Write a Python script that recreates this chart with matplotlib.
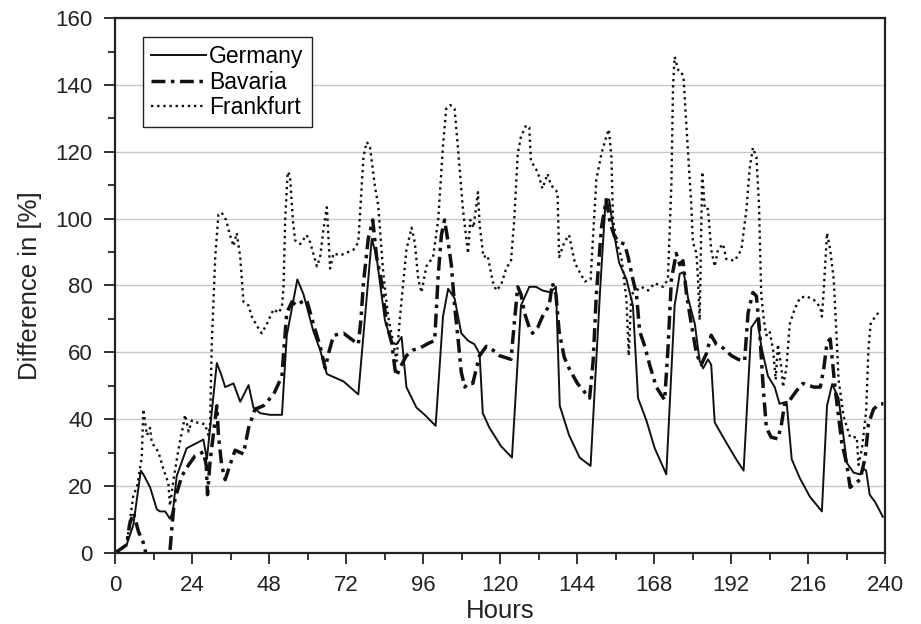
import numpy as np
import matplotlib
matplotlib.use('Agg')
import matplotlib.pyplot as plt
from matplotlib.ticker import MultipleLocator

plt.rcParams['font.family'] = ['Liberation Sans', 'DejaVu Sans']

# hourly difference series, read as (hour, value) pairs
germany_h = [0, 3.6, 5.7, 8, 8.8, 10.9, 13, 14, 15.6, 17.1, 18, 19.2, 22.3, 27.5, 28.6, 31.7, 33.2,
             34.3, 36.9, 39, 41.6, 43.1, 45.2, 48.3, 52, 53.5, 56.8, 58.7, 61.8, 63.9, 66, 71.2, 75.8,
             80, 81.5, 84.1, 86.2, 87.7, 89.3, 90.8, 93.9, 96.5, 99.9, 102.2, 103.8, 105.8, 107.9, 110,
             112, 113.6, 114.6, 116.7, 120.3, 123.7, 126.5, 129.1, 131.2, 133.2, 135.8, 137.4, 138.6,
             141.5, 144.8, 148.2, 151.1, 152.9, 154, 155.2, 157.1, 159.4, 161.4, 163, 165.6, 168.2,
             171.8, 174.4, 176, 177.2, 178.6, 180.7, 182.2, 183.3, 184.8, 185.8, 186.9, 190.5, 193.6,
             195.9, 198.3, 200.2, 201.4, 203.5, 205.6, 207.1, 209.3, 210.9, 213.4, 216.5, 220.3, 221.9,
             223.5, 225.5, 228.1, 230.2, 232.2, 233.3, 234.1, 235.2, 236.9, 239.3]
germany_v = [0, 2.4, 8.5, 24.6, 23.5, 19.6, 13, 12.4, 12.4, 10.2, 12.4, 23, 31.3, 33.9, 28, 56.8, 53,
             49.6, 50.7, 45.2, 50.2, 43.5, 41.8, 41.3, 41.3, 65, 81.8, 77.4, 66.3, 60.7, 53.5, 51.3, 47.4,
             94, 88.5, 69.6, 62.9, 62.4, 64.6, 49.6, 43.5, 41.3, 38, 70.7, 79, 76.2, 65.7, 63.5,
             62.4, 59.6, 41.8, 37.4, 31.9, 28.5, 74, 79.6, 79.6, 78.5, 77.9, 79.6, 44,
             35.2, 28.5, 26, 77.4, 105.7, 105.7, 97.3, 86.8, 81.8, 74, 46.3, 39.6, 31.3,
             23.5, 74, 83.5, 84, 76.2, 68.5, 57.4, 55.2, 57.9, 56.3, 39, 33, 28,
             24.6, 67.4, 70.1, 61.8, 52.9, 49.6, 44.6, 45.2, 28, 22.4, 16.9, 12.4, 44,
             50.5, 46.3, 26.9, 24, 23.5, 25.2, 24.6, 17.4, 15.2, 10.8]

bavaria_h = [0, 3.6, 4.5, 5.7, 7.3, 8.8, 9.9, 12, 16, 17.1, 18.2, 18.7, 20.8, 22.9, 24.9, 27.5, 28.4,
             28.8, 29.6, 30.6, 31.7, 32.2, 33.2, 34.3, 35.8, 37.4, 40, 41.6, 43.6, 46.2, 49.4, 52, 52.5,
             53.5, 55.1, 56.6, 58.2, 59.7, 61.8, 63.9, 65.5, 66.5, 68.1, 71.2, 75.8, 76.6, 77.4, 78.9,
             80.3, 81.5, 83.1, 84.6, 86.2, 87.2, 87.7, 89.3, 90.8, 92.9, 95, 98.1, 99.6, 100.7, 101.7,
             102.7, 103.8, 104.8, 105.8, 106.9, 107.9, 109, 110, 111.5, 112.6, 113.6, 115.7, 117.7,
             119.8, 123.4, 124.4, 125.5, 126.5, 127.6, 129.1, 130.1, 131.7, 133.2, 135.3, 136.3,
             137.4, 138.4, 140, 141.5, 144.1, 147.9, 149, 150, 151.6, 153.1, 154.4, 155.7, 157.3,
             158.8, 159.9, 161.4, 162.5, 163.5, 165.1, 166.6, 168.7, 171.3, 172.3, 173.4, 174.9, 176,
             177, 178.1, 179.6, 181.2, 182.7, 184.3, 185.8, 187.4, 189.5, 192.1, 194.2, 196.2, 197.3,
             198.8, 199.9, 200.9, 202, 203, 204.5, 206.6, 207.7, 208.7, 210.3, 212.4, 214.4, 217.8,
             219.8, 220.9, 221.9, 222.9, 223.8, 224.5, 225.5, 226.5, 228.1, 229.1, 230.7, 232.2,
             233.8, 234.8, 236.4, 238.4, 239.5]
bavaria_v = [0, 2.4, 8.5, 12, 6.3, 3, -1.4, -15, -12, 0.8, 13, 16.3, 23, 26.3, 29, 30.2, 26.3,
             17.4, 27.4, 35.2, 44, 35.2, 26.3, 21.9, 26.3, 30.7, 29.6, 37.4, 43, 44, 47.4, 52.9, 59.6,
             71.8, 75.1, 74, 75.1, 75.7, 68.5, 61.8, 55.2, 59.6, 65.1, 65.7, 62.4, 69.6, 80.7, 94,
             99.6, 88.5, 80.7, 68.5, 62.9, 55.2, 52.9, 56.3, 59, 60.7, 61.3, 62.9, 63.5, 82.9, 95.1,
             99.6, 92.9, 86.2, 74, 64, 54, 49.6, 50.7, 50.7, 55.2, 59, 61.8, 60.7,
             59, 57.9, 68.5, 79.6, 77.4, 71.8, 67.4, 65.7, 67.4, 70.7, 74, 80.7,
             77.4, 66.3, 58.5, 55.2, 50.7, 46.3, 57.4, 77.4, 97.3, 105.7, 98.4, 94.6, 92.9,
             92.4, 88.5, 81.8, 77.4, 66.3, 61.8, 56.3, 49.6, 45.7, 60.7, 81.8, 89.6, 86.2,
             87.4, 77.4, 68.5, 59.6, 56.3, 59.6, 65.1, 62.4, 61.3, 59, 57.9, 57.4, 71.8,
             77.9, 76.8, 66.3, 49.6, 37.4, 34.6, 34.1, 38.5, 44.6, 45.7, 48.5, 50.7, 49.6,
             49.6, 55.2, 62.9, 64, 55.2, 48.5, 40.7, 33, 26.3, 19.6, 20.8, 21.9,
             28.5, 38.5, 43, 44.6, 44.6]

frankfurt_h = [0, 3.6, 5.7, 6.8, 8.3, 8.8, 9.9, 10.9, 11.4, 13.5, 15, 16.6, 17.1, 18.2, 19.7, 21.3,
               21.8, 22.9, 23.9, 25.5, 28, 29.1, 29.6, 30.1, 31.2, 32.2, 33.2, 34.6, 35.8, 36.9, 37.9,
               39, 40, 41.6, 42.6, 44.2, 45.7, 47.3, 49.4, 50.9, 52, 52.5, 53, 53.8, 54.5, 55.4, 56.1,
               57.7, 59.7, 60.8, 62.9, 63.9, 65, 66, 67, 68.1, 70.1, 71.7, 74.3, 75.8, 77.4, 78.4, 79.4,
               81, 82, 83.6, 85.1, 86.7, 87.7, 88.8, 90.8, 92.4, 93.4, 94.5, 95.5, 97, 99.1, 100.7,
               102.2, 103.2, 104.5, 105.8, 106.9, 108.4, 110, 110.7, 111.7, 113.1, 113.6, 114.8, 116.1,
               117.7, 118.8, 120.3, 121.9, 123.4, 124.4, 125.5, 126.5, 128.1, 129.1, 129.6, 131.7,
               133.2, 134.8, 135.8, 137.9, 138.4, 140, 141.5, 143.3, 144.8, 146.4, 148.2, 149, 150,
               151.6, 153.1, 153.9, 154.7, 155.2, 156.3, 157.8, 159.4, 160.1, 160.9, 162.5, 164, 166.1,
               168.2, 170.8, 172.3, 173.4, 173.9, 174.4, 175.5, 176.5, 177.2, 178.1, 178.9, 179.6,
               180.1, 181.2, 181.7, 182.2, 183, 183.8, 184.8, 185.8, 186.9, 187.9, 189.5, 190.5, 193.1,
               195.2, 196.8, 197.8, 198.8, 199.9, 200.7, 201.4, 202.2, 203, 204, 205.1, 205.9, 206.6,
               207.7, 208.2, 209.2, 210.3, 211.8, 213.4, 215.4, 217.8, 219.8, 220.3, 220.8, 221.9,
               222.9, 224, 224.8, 225.5, 227.1, 229.1, 231.2, 231.7, 232.8, 234.1, 234.8, 235.5,
               236.9, 237.9]
frankfurt_v = [0, 2.4, 17.4, 19.6, 28.5, 43, 35.2, 37.4, 33, 30.2, 25.2, 20.8, 14.1, 21.9, 30.7, 38.5,
               41.3, 36.3, 39.6, 39, 38.5, 35.2, 38.5, 61.8, 88.5, 101.2, 101.8, 99.6, 95.1, 91.8, 95.7,
               88.5, 75.1, 74, 70.7, 67.9, 65.7, 68.5, 72.9, 71.8, 73.5, 79.6, 99.6, 114, 112.9, 99.6,
               93.5, 92.4, 95.1, 92.9, 85.7, 88.5, 97.3, 103.4, 85.1, 89.6, 89, 89.6, 90.7, 92.9, 118.4,
               122.9, 121.8, 109.5, 104, 83.5, 70.7, 62.9, 57.4, 70.7, 90.7, 97.3, 92.9, 81.8, 77.9,
               85.7, 88.5, 99.6, 121.8, 132.9, 134, 132.9, 120.7, 102.9, 89.6, 99.6, 97.3, 107.9, 98.4,
               88.5, 89, 81.2, 78.5, 80.1, 85.1, 87.4, 99.6, 119.5, 124.5, 127.9, 127.3, 117.3, 114,
               109, 113.4, 110.1, 107.9, 88.5, 92.9, 95.1, 86.8, 84, 81.2, 81.8, 95.1, 111.7, 119.5,
               124.5, 126.7, 118.4, 99.6, 92.9, 88.5, 75.7, 59, 77.4, 78.5, 79.6, 78.5, 80.7, 79.6,
               81.8, 110.6, 139.5, 148.4, 144.5, 144, 141.7, 127.3, 115.1, 104, 92.9, 89.6, 81.8,
               69.6, 114, 102.9, 102.9, 90.7, 85.7, 90.7, 92.4, 87.9, 87.4, 90.7, 102.9, 115.1, 121.2,
               118.4, 104, 77.4, 69.6, 65.1, 66.3, 60.7, 51.8, 62.4, 55.2, 49.6, 55.2, 68.5, 72.9,
               76.2, 76.8, 75.7, 73.5, 70.7, 77.4, 95.7, 90.7, 81.8, 66.3, 51.8, 40.7, 34.6, 34.6,
               26.3, 31.3, 42.4, 60.7, 68.5, 70.7, 71.8]

fig = plt.figure(figsize=(9.21, 6.24), dpi=100)
ax = fig.add_axes([0.125, 0.114, 0.836, 0.857])

ax.plot(germany_h, germany_v, color='#111111', lw=1.4, label='Germany')
ax.plot(bavaria_h, bavaria_v, color='#111111', lw=2.5, dashes=(4, 1.6, 1.0, 1.6), label='Bavaria')
ax.plot(frankfurt_h, frankfurt_v, color='#111111', lw=1.7, dashes=(1.0, 1.6), label='Frankfurt')

ax.set_xlim(0, 240)
ax.set_ylim(0, 160)
ax.xaxis.set_major_locator(MultipleLocator(24))
ax.xaxis.set_minor_locator(MultipleLocator(12))
ax.yaxis.set_major_locator(MultipleLocator(20))
ax.yaxis.set_minor_locator(MultipleLocator(10))
ax.tick_params(which='major', direction='out', length=8, width=1.3, labelsize=16,
               pad=8, colors='#222222')
ax.tick_params(which='minor', direction='out', length=5, width=1.1)
ax.yaxis.grid(True, color='#c8c8c8', lw=1.0)
ax.set_axisbelow(True)
for s in ax.spines.values():
    s.set_linewidth(1.6)
    s.set_color('#222222')

ax.set_xlabel('Hours', fontsize=18.5, labelpad=2, color='#222222')
ax.set_ylabel('Difference in [%]', fontsize=18.5, labelpad=10, color='#222222')

leg = ax.legend(loc='upper left', bbox_to_anchor=(0.036, 0.965), fontsize=16.5, frameon=True,
                fancybox=False, edgecolor='#222222', framealpha=1, handlelength=2.4,
                handletextpad=0.15, borderpad=0.35, labelspacing=0.12, borderaxespad=0)
leg.get_frame().set_linewidth(1.0)

fig.savefig('out.png', dpi=100)
